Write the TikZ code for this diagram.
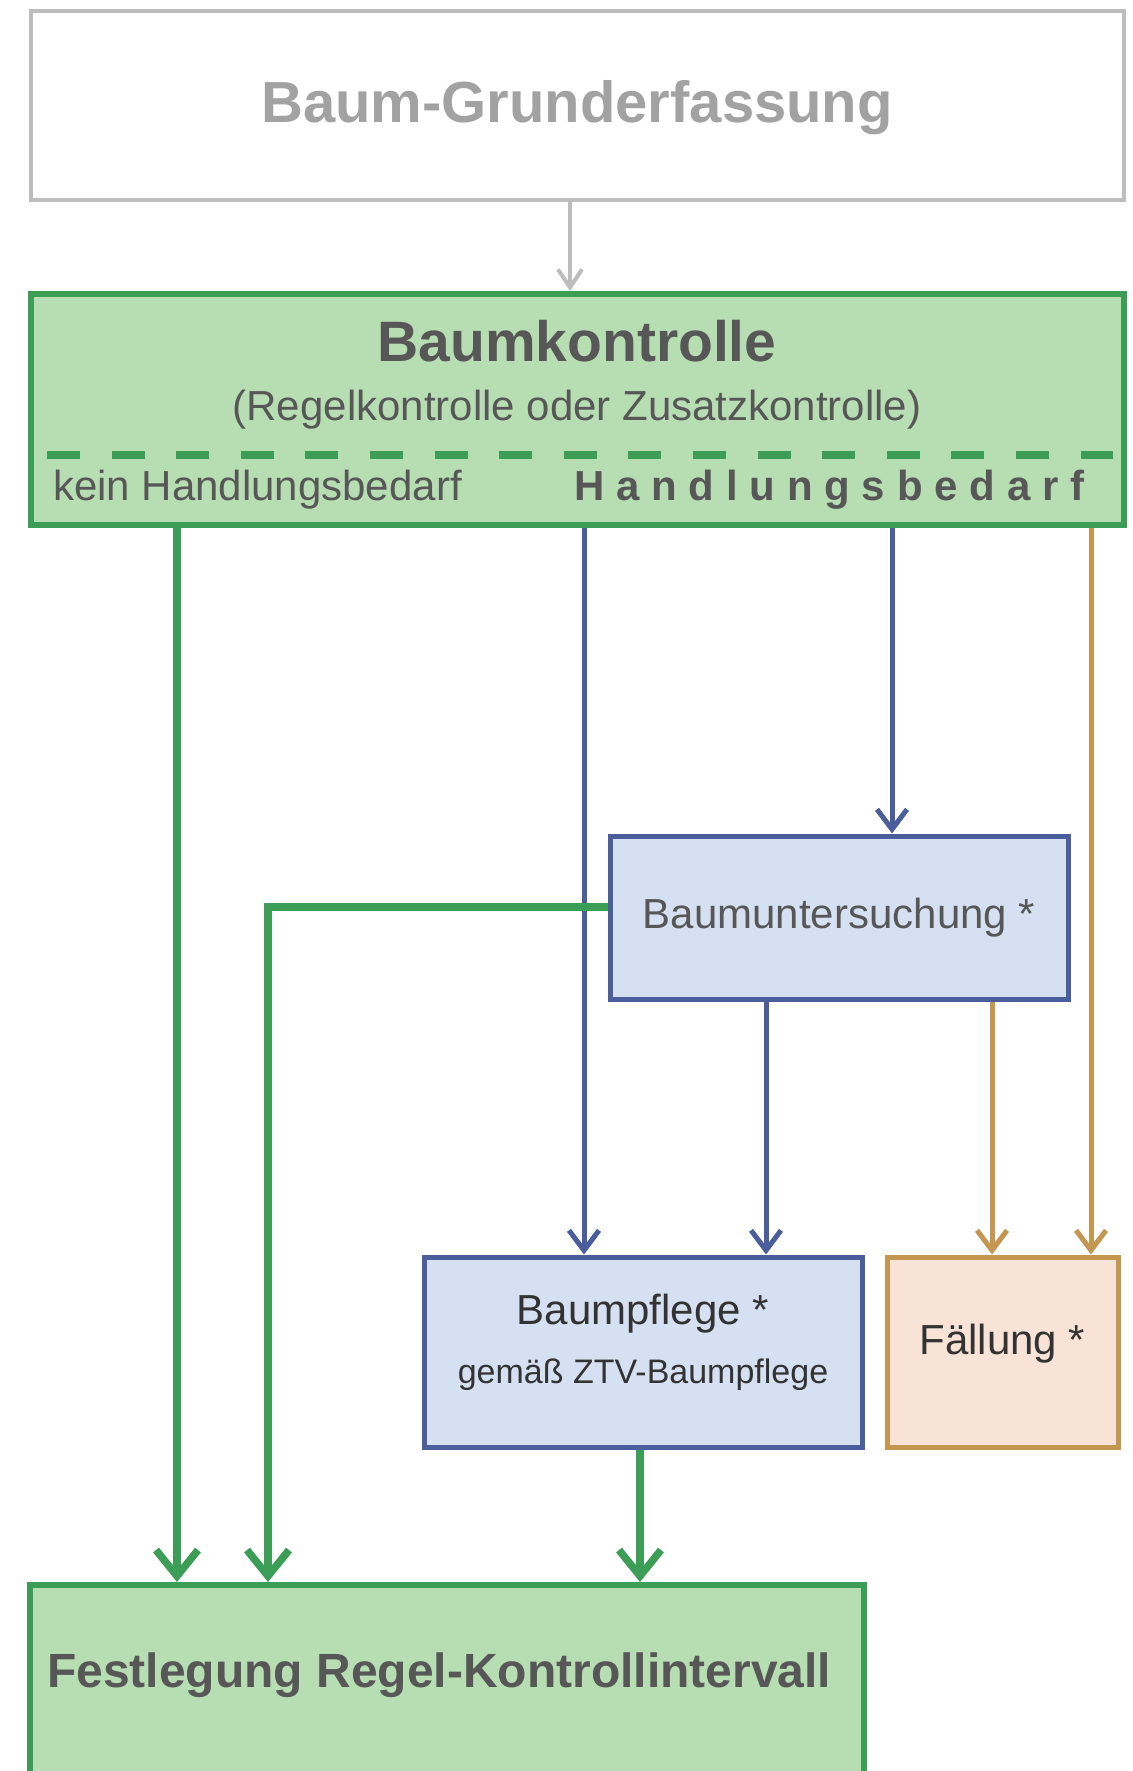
\documentclass[tikz,border=0pt]{standalone}
\usepackage{fontspec}
\setmainfont{Liberation Sans}
\usetikzlibrary{arrows.meta,positioning}
\definecolor{greyLine}{HTML}{BDBDBD}
\definecolor{greyText}{HTML}{A2A2A2}
\definecolor{darkText}{HTML}{575757}
\definecolor{greenLine}{HTML}{3C9E56}
\definecolor{greenFill}{HTML}{B7DDB2}
\definecolor{blueLine}{HTML}{4A5E9C}
\definecolor{blueFill}{HTML}{D5E0F2}
\definecolor{brownLine}{HTML}{C4964F}
\definecolor{brownFill}{HTML}{F9E3D6}

\begin{document}
\begin{tikzpicture}[x=1pt, y=-1pt,
    box/.style={rectangle, inner sep=0pt, line width=5pt},
    greybox/.style={box, draw=greyLine, fill=white, line width=4pt},
    greenbox/.style={box, draw=greenLine, fill=greenFill, line width=6pt},
    bluebox/.style={box, draw=blueLine, fill=blueFill, text=darkText, align=center},
    brownbox/.style={box, draw=brownLine, fill=brownFill, text=black!80},
    label/.style={inner sep=0pt, text=darkText},
    gflow/.style={draw=greenLine, line width=7.5pt, -{Straight Barb[length=26pt, width=42pt]}},
    bflow/.style={draw=blueLine, line width=5pt, -{Straight Barb[length=20pt, width=30pt]}},
    oflow/.style={draw=brownLine, line width=5pt, -{Straight Barb[length=20pt, width=30pt]}},
    eflow/.style={draw=greyLine, line width=4pt, -{Straight Barb[length=18pt, width=24pt]}}
  ]
  \clip (0,0) rectangle (1132,1771);
  \fill[white] (0,0) rectangle (1132,1771);

  % boxes
  \node[greybox, minimum width=1093pt, minimum height=189pt] (top) at (577,105.5) {};
  \node[label, text=greyText, font=\fontsize{58}{60}\selectfont\bfseries] (toptext) at (577,108) {Baum-Grunderfassung};

  \node[greenbox, minimum width=1093pt, minimum height=231pt] (bk) at (577,409.5) {};
  \node[label, font=\fontsize{57}{60}\selectfont\bfseries] (bktitle) at (577,341) {Baumkontrolle};
  \node[label, font=\fontsize{42}{44}\selectfont] (bksub) at (577,410) {(Regelkontrolle oder Zusatzkontrolle)};
  \draw[greenLine, line width=8pt, dash pattern=on 33pt off 31.6pt] (47,455) -- (1113,455);
  \node[label, anchor=west, font=\fontsize{42}{44}\selectfont] (kein) at (53,490) {kein Handlungsbedarf};
  \node[label, anchor=west, font=\fontsize{42}{44}\selectfont\bfseries\addfontfeature{LetterSpace=28}] (hb) at (574,490) {Handlungsbedarf};

  \node[bluebox, minimum width=458pt, minimum height=163pt, font=\fontsize{42}{44}\selectfont] (unters) at (839,917.5) {Baumuntersuchung~*};
  \node[bluebox, minimum width=438pt, minimum height=190pt, text=black!80] (pflege) at (643,1352) {};
  \node[label, text=black!80, font=\fontsize{42}{44}\selectfont] (pflegetext) at (643,1314) {Baumpflege *};
  \node[label, text=black!80, font=\fontsize{34}{36}\selectfont] (pflegesub) at (643,1375) {gemäß ZTV-Baumpflege};
  \node[brownbox, minimum width=231pt, minimum height=190pt] (faell) at (1002.5,1352) {};
  \node[label, text=black!80, font=\fontsize{42}{44}\selectfont] (faelltext) at (1002.5,1344) {Fällung *};

  \node[greenbox, minimum width=834pt, minimum height=215pt] (fest) at (447,1692.5) {};
  \node[label, anchor=west, font=\fontsize{48}{50}\selectfont\bfseries] (festtext) at (47,1675) {Festlegung Regel-Kontrollintervall};

  % connectors
  \draw[eflow] (top.south -| 570,0) -- (bk.north -| 570,0);
  \draw[bflow] (bk.south -| 584,0) -- (pflege.north -| 584,0);
  \draw[bflow] (bk.south -| 892,0) -- (unters.north -| 892,0);
  \draw[oflow] (bk.south -| 1091,0) -- (faell.north -| 1091,0);
  \draw[bflow] (unters.south -| 766,0) -- (pflege.north -| 766,0);
  \draw[oflow] (unters.south -| 992,0) -- (faell.north -| 992,0);
  \draw[gflow] (bk.south -| 177,0) -- (fest.north -| 177,0);
  \draw[gflow] (unters.west |- 0,907) -| (fest.north -| 268,0);
  \draw[gflow] (pflege.south -| 640,0) -- (fest.north -| 640,0);
\end{tikzpicture}
\end{document}
